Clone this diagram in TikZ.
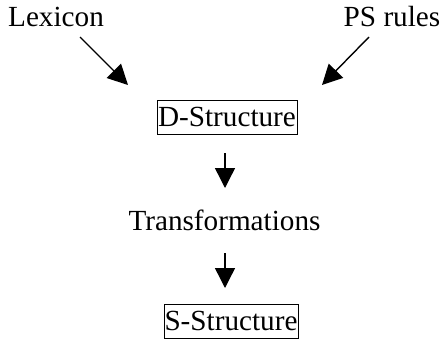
\documentclass[tikz,border=0pt]{standalone}
\usepackage{fontspec}
\setmainfont{Liberation Serif}
\usetikzlibrary{arrows.meta}
\begin{document}
\begin{tikzpicture}[x=1pt,y=-1pt,
  lbl/.style={inner sep=0pt,anchor=base,font=\fontsize{29.2}{34}\selectfont},
  boxed/.style={draw,line width=1pt,inner sep=0pt,minimum height=34pt,
    font=\fontsize{29.2}{34}\selectfont},
  flow/.style={line width=1.4pt,-{Triangle[length=20pt,width=20pt]}}]
\useasboundingbox (0,0) rectangle (442,340);

% labels
\node[lbl] (lex) at (56,27) {Lexicon};
\node[lbl] (ps) at (392,27) {PS rules};
\node[boxed,minimum width=140pt] (ds) at (227,117) {D-Structure};
\node[lbl] (tr) at (224.5,230) {Transformations};
\node[boxed,minimum width=134pt] (ss) at (231,321) {S-Structure};

% arrow end points
\coordinate (lexout) at (80,37);
\coordinate (lexin) at (128,85);
\coordinate (psout) at (369,37);
\coordinate (psin) at (322,85);
\coordinate (dsout) at (225,153);
\coordinate (trin) at (225,188);
\coordinate (trout) at (225,253);
\coordinate (ssin) at (225,288);

% connectors
\draw[flow] (lexout) -- (lexin);
\draw[flow] (psout) -- (psin);
\draw[flow] (dsout) -- (trin);
\draw[flow] (trout) -- (ssin);
\end{tikzpicture}
\end{document}
